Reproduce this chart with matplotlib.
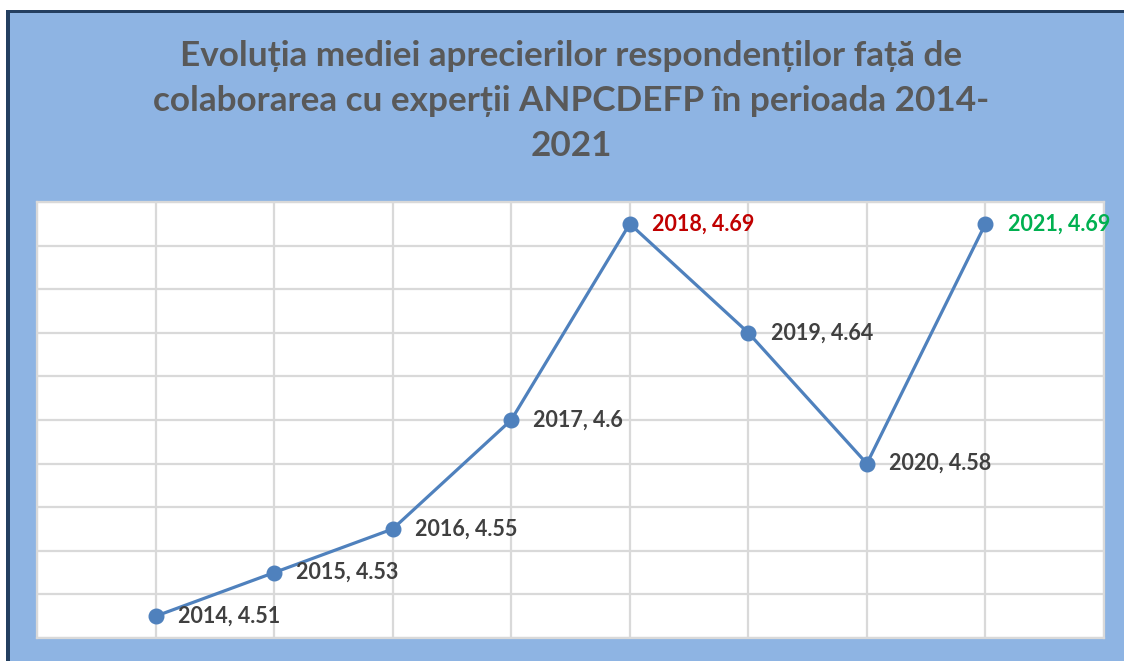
import matplotlib
matplotlib.use("Agg")
import matplotlib.pyplot as plt
from matplotlib.patches import Rectangle

years = [2014, 2015, 2016, 2017, 2018, 2019, 2020, 2021]
values = [4.51, 4.53, 4.55, 4.60, 4.69, 4.64, 4.58, 4.69]
label_colors = ["#404040", "#404040", "#404040", "#404040", "#C00000", "#404040", "#404040", "#00B050"]
title = "Evoluția mediei aprecierilor respondenților față de\ncolaborarea cu experții ANPCDEFP în perioada 2014-\n2021"

W, H = 1124, 661
fig = plt.figure(figsize=(W / 100, H / 100), dpi=100)
fig.patch.set_facecolor("white")

# chart area background with dark border on top/left
fig.add_artist(Rectangle((7 / W, 0), 1 - 7 / W, (H - 11) / H, transform=fig.transFigure,
                         facecolor="#8EB4E3", edgecolor="none", zorder=0))
fig.add_artist(Rectangle((7 / W, (H - 13) / H), 1, 3 / H, transform=fig.transFigure,
                         facecolor="#243F60", edgecolor="none", zorder=1))
fig.add_artist(Rectangle((6 / W, 0), 3.5 / W, (H - 10) / H, transform=fig.transFigure,
                         facecolor="#243F60", edgecolor="none", zorder=1))

fig.text(0.508, (H - 101) / H, title, ha="center", va="center", fontsize=25.3,
         fontweight="bold", color="#595959", family=["Lato", "DejaVu Sans"], linespacing=1.5)

ax = fig.add_axes([37 / W, (H - 638) / H, (1104 - 37) / W, (638 - 202) / H])
ax.set_facecolor("white")
ax.set_xlim(years[0] - 1, years[-1] + 1)
ax.set_ylim(4.50, 4.70)
ax.set_xticks(range(years[0] - 1, years[-1] + 2))
ax.set_yticks([4.50 + 0.02 * i for i in range(11)])
ax.grid(True, color="#D9D9D9", linewidth=1.6)
ax.set_axisbelow(True)
ax.tick_params(length=0, labelbottom=False, labelleft=False)
for s in ax.spines.values():
    s.set_color("#D9D9D9")
    s.set_linewidth(1.6)

ax.plot(years, values, color="#4F81BD", linewidth=2.3, marker="o", markersize=10.5, zorder=3)
for x, y, c in zip(years, values, label_colors):
    label = f"{x}, {y:g}"
    ax.annotate(label, (x, y), xytext=(16, 0), textcoords="offset points", va="center",
                ha="left", fontsize=15.5, fontweight="bold", color=c,
                family=["Lato", "DejaVu Sans"], zorder=4)

fig.savefig("out.png", dpi=100)
